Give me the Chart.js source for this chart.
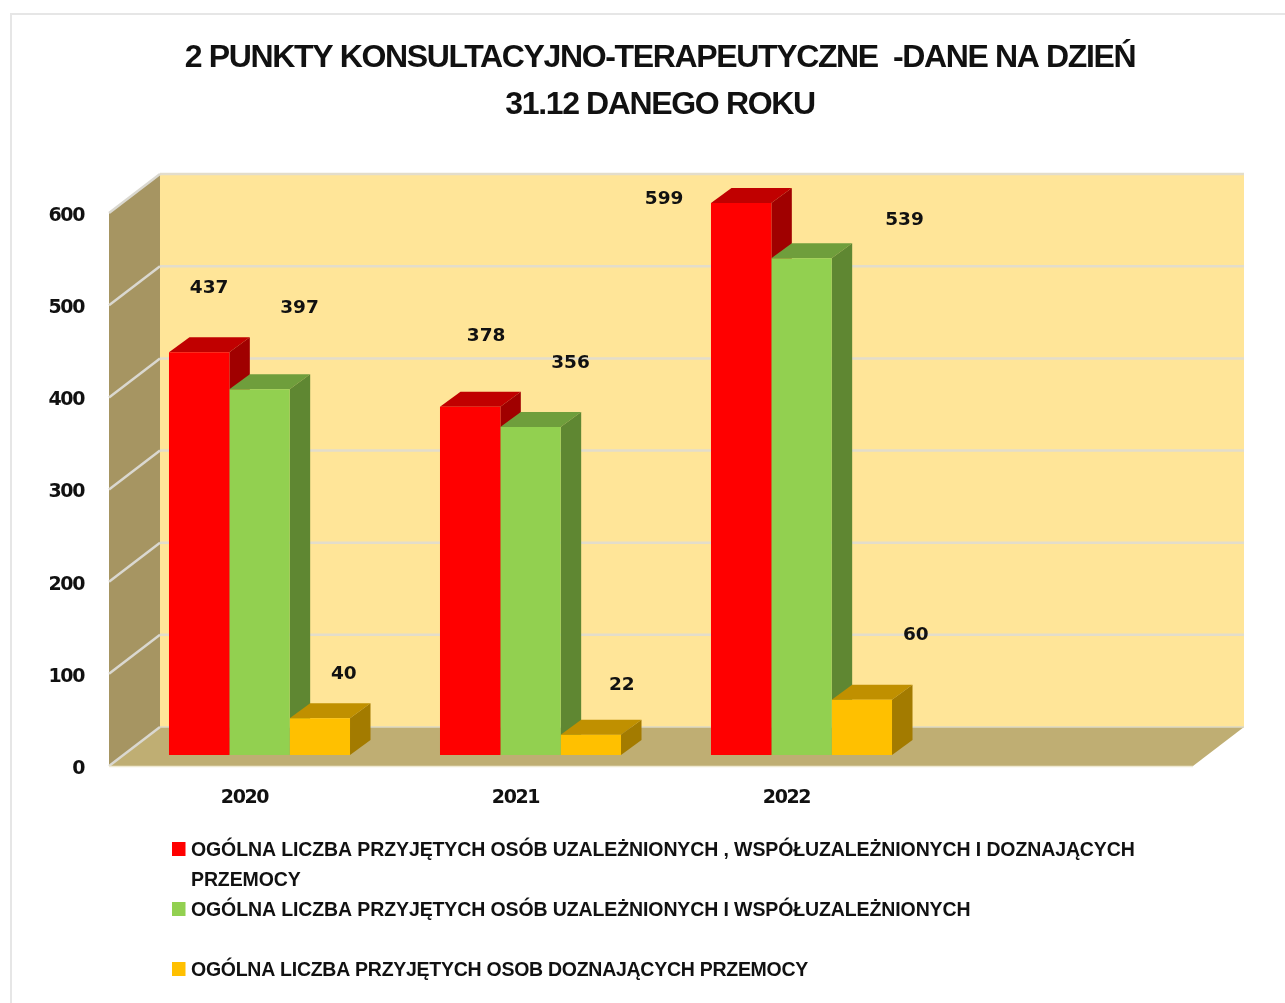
<!DOCTYPE html>
<html lang="pl">
<head>
<meta charset="utf-8">
<title>Punkty konsultacyjno-terapeutyczne</title>
<style>
html,body{margin:0;padding:0;background:#fff;overflow:hidden}
#frame{position:absolute;left:10px;top:13px;width:1275px;height:990px;border-left:2px solid #e6e6e6;border-top:2px solid #e6e6e6;box-sizing:border-box}
#wrap{position:absolute;left:35px;top:0;width:1250px;height:1003px;filter:blur(0.5px)}
</style>
</head>
<body>
<div id="frame"></div>
<div id="wrap"><canvas id="c" width="1250" height="1003"></canvas></div>
<script src="https://cdn.jsdelivr.net/npm/chart.js@4"></script>
<script>
const categories = ["2020", "2021", "2022", ""];
const seriesAll = [437, 378, 599, null];
const seriesAddicted = [397, 356, 539, null];
const seriesViolence = [40, 22, 60, null];
const yTicks = [0, 100, 200, 300, 400, 500, 600];
const titleLines = ["2 PUNKTY KONSULTACYJNO-TERAPEUTYCZNE  -DANE NA DZIEŃ", "31.12 DANEGO ROKU"];
const legendLines = [
  ["OGÓLNA LICZBA PRZYJĘTYCH OSÓB UZALEŻNIONYCH , WSPÓŁUZALEŻNIONYCH I DOZNAJĄCYCH", "PRZEMOCY"],
  ["OGÓLNA LICZBA PRZYJĘTYCH OSÓB UZALEŻNIONYCH I WSPÓŁUZALEŻNIONYCH"],
  ["OGÓLNA LICZBA PRZYJĘTYCH OSOB DOZNAJĄCYCH PRZEMOCY"]
];

// styling and placement, separate from the values
const frontColors = ["#FF0000", "#92D050", "#FFC000"];
const topColors = ["#C00000", "#6F9E3C", "#C09000"];
const sideColors = ["#A00000", "#5F8732", "#A37B00"];
const labelNudge = [
  [[10, -64], [16, -70], [-77, -4]],
  [[40, -81], [40, -64], [103, -38]],
  [[24, -44], [31, -50], [54, -65]]
];
const legendRows = [849, 909, 969];
const legendRowStep = 30;
const legendSpacing = ["-0.11px", "-0.11px", "-0.27px"];
const PAGE_X = 35;
const FONT = '"DejaVu Sans"';
const TEXT = "#111";

const scene3d = {
  id: "scene3d",
  afterLayout(chart) { chart.titleBlock.right = chart.width; },
  beforeDraw(chart) { chart.ctx.letterSpacing = "-1.36px"; },
  beforeDatasetsDraw(chart) {
    const { ctx, scales: { x, y } } = chart;
    ctx.letterSpacing = "0px";
    const L = x.left, R = x.right;
    const fx0 = L - 15, fx1 = R - 15, bx0 = L + 36, bx1 = R + 36;
    const fy = v => y.getPixelForValue(v) + 11;
    const by = v => y.getPixelForValue(v) - 28;
    const poly = (pts, c) => {
      ctx.beginPath();
      pts.forEach((p, i) => i ? ctx.lineTo(p[0], p[1]) : ctx.moveTo(p[0], p[1]));
      ctx.closePath();
      ctx.fillStyle = c;
      ctx.fill();
    };
    ctx.save();
    poly([[bx0, by(600)], [bx1, by(600)], [bx1, by(0)], [bx0, by(0)]], "#FFE598");
    poly([[fx0, fy(600)], [bx0, by(600)], [bx0, by(0)], [fx0, fy(0)]], "#A69562");
    poly([[fx0, fy(0)], [bx0, by(0)], [bx1, by(0)], [fx1, fy(0)]], "#BFAE73");
    ctx.lineWidth = 2.5;
    yTicks.forEach(v => {
      if (v > 0) {
        ctx.strokeStyle = "#E3DDCB";
        ctx.beginPath(); ctx.moveTo(bx0, by(v)); ctx.lineTo(bx1, by(v)); ctx.stroke();
      }
      ctx.strokeStyle = "#DAD8D0";
      ctx.beginPath(); ctx.moveTo(fx0, fy(v)); ctx.lineTo(bx0, by(v)); ctx.stroke();
    });
    ctx.lineWidth = 1.5;
    ctx.strokeStyle = "#DDD8C4";
    ctx.beginPath(); ctx.moveTo(bx0, by(0)); ctx.lineTo(bx1, by(0)); ctx.stroke();
    ctx.strokeStyle = "#EFE9D2";
    ctx.beginPath(); ctx.moveTo(fx0, fy(0) + 0.5); ctx.lineTo(fx1, fy(0) + 0.5); ctx.stroke();
    const dx = 20.5, dy = -15;
    chart.data.datasets.forEach((ds, d) => {
      chart.getDatasetMeta(d).data.forEach((bar, i) => {
        if (ds.data[i] == null) return;
        const left = bar.x - bar.width / 2, right = bar.x + bar.width / 2;
        poly([[left, bar.y], [left + dx, bar.y + dy], [right + dx, bar.y + dy], [right, bar.y]], topColors[d]);
        poly([[right, bar.y], [right + dx, bar.y + dy], [right + dx, bar.base + dy], [right, bar.base]], sideColors[d]);
      });
    });
    ctx.restore();
  },
  afterDatasetsDraw(chart) {
    const { ctx } = chart;
    ctx.save();
    ctx.fillStyle = TEXT;
    ctx.font = "bold 18.5px " + FONT;
    ctx.textAlign = "center";
    ctx.textBaseline = "middle";
    ctx.letterSpacing = "0px";
    chart.data.datasets.forEach((ds, d) => {
      chart.getDatasetMeta(d).data.forEach((bar, i) => {
        if (ds.data[i] == null) return;
        const n = labelNudge[d][i];
        ctx.fillText(String(ds.data[i]), bar.x + n[0], bar.y + n[1]);
      });
    });
    ctx.textAlign = "left";
    ctx.font = "bold 19.5px 'Liberation Sans'";
    legendLines.forEach((lines, r) => {
      ctx.letterSpacing = legendSpacing[r];
      ctx.fillStyle = frontColors[r];
      ctx.fillRect(172 - PAGE_X, legendRows[r] - 7, 13.5, 14);
      ctx.fillStyle = TEXT;
      lines.forEach((t, k) => ctx.fillText(t, 191 - PAGE_X, legendRows[r] + k * legendRowStep + 2));
    });
    ctx.restore();
  }
};

new Chart(document.getElementById("c"), {
  type: "bar",
  plugins: [scene3d],
  data: {
    labels: categories,
    datasets: [
      { label: legendLines[0].join(" "), data: seriesAll, backgroundColor: frontColors[0] },
      { label: legendLines[1][0], data: seriesAddicted, backgroundColor: frontColors[1] },
      { label: legendLines[2][0], data: seriesViolence, backgroundColor: frontColors[2] }
    ]
  },
  options: {
    responsive: false,
    animation: false,
    layout: { padding: { left: 0, right: 77, top: 0, bottom: 168 } },
    datasets: { bar: { categoryPercentage: 0.668, barPercentage: 1 } },
    plugins: {
      legend: { display: false },
      tooltip: { enabled: false },
      title: {
        display: true,
        text: titleLines,
        color: "#111",
        font: { family: "'Liberation Sans'", size: 32, weight: "bold", lineHeight: 1.47 },
        padding: { top: 35, bottom: 73 }
      }
    },
    scales: {
      x: {
        grid: { display: false },
        border: { display: false },
        afterFit(s) { s.height = 80; },
        ticks: {
          color: TEXT, padding: 24, labelOffset: -15, maxRotation: 0, autoSkip: false,
          font: { family: FONT, size: 19, weight: "bold" }
        }
      },
      y: {
        min: 0, max: 600,
        grid: { display: false },
        border: { display: false },
        afterFit(s) { s.width = 89; },
        ticks: {
          color: TEXT, padding: 32, labelOffset: 14, stepSize: 100,
          font: { family: FONT, size: 19, weight: "bold" }
        }
      }
    }
  }
});
</script>
</body>
</html>
